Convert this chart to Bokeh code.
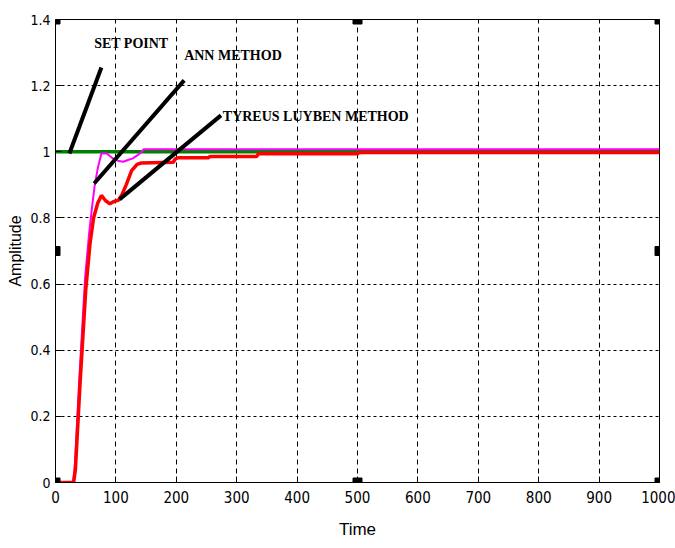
from bokeh.plotting import figure
from bokeh.models import Range1d, FixedTicker
from bokeh.core.properties import value
from bokeh.embed import file_html
from bokeh.resources import INLINE

# ---- data ----
x_ticks = [0, 100, 200, 300, 400, 500, 600, 700, 800, 900, 1000]
y_ticks = [0, 0.2, 0.4, 0.6, 0.8, 1.0, 1.2, 1.4]
y_tick_labels = ["0", "0.2", "0.4", "0.6", "0.8", "1", "1.2", "1.4"]

set_t = [0, 1000]
set_y = [1.0, 1.0]

tl_t = [0, 30, 33, 41, 50, 57, 63, 70, 76, 83, 90, 97, 104, 110, 117, 126, 135, 142,
        195, 198, 203, 253, 256, 333, 336, 500, 503, 1000]
tl_y = [0, 0, 0.04, 0.31, 0.58, 0.72, 0.80, 0.845, 0.868, 0.852, 0.843, 0.85, 0.853,
        0.87, 0.90, 0.943, 0.962, 0.966, 0.968, 0.978, 0.982, 0.982, 0.986, 0.986,
        0.994, 0.994, 0.998, 0.998]

ann_t = [0, 29, 32, 39, 49, 56, 61, 65, 70, 76, 85, 95, 105, 112, 120, 128, 136, 142, 146, 1000]
ann_y = [0, 0, 0.05, 0.30, 0.62, 0.76, 0.84, 0.90, 0.95, 0.995, 0.995, 0.98, 0.972,
         0.97, 0.975, 0.98, 0.99, 0.998, 1.008, 1.008]

note_text = ["SET POINT", "ANN METHOD", "TYREUS LUYBEN METHOD"]
note_x = [64, 213, 277]
note_y = [1.305, 1.268, 1.085]
pointer_x0 = [23, 64, 106]
pointer_y0 = [0.995, 0.904, 0.856]
pointer_x1 = [76, 213, 274]
pointer_y1 = [1.255, 1.216, 1.11]

handle_x = [0, 500, 1000, 0, 1000, 0, 500, 1000]
handle_y = [1.4, 1.4, 1.4, 0.7, 0.7, 0, 0, 0]

# ---- figure ----
p = figure(width=675, height=548, x_range=Range1d(0, 1000), y_range=Range1d(0, 1.4),
           output_backend="svg", toolbar_location=None,
           min_border_left=55, min_border_right=16, min_border_top=19, min_border_bottom=66)
p.background_fill_color = "white"
p.border_fill_color = "white"
p.outline_line_color = "black"
p.outline_line_width = 1

tick_font = "Liberation Sans Narrow, DejaVu Sans Condensed, Liberation Sans"
for ax in (p.xaxis[0], p.yaxis[0]):
    ax.major_tick_in = 6
    ax.major_tick_out = 0
    ax.minor_tick_line_color = None
    ax.axis_line_color = "black"
    ax.major_tick_line_color = "black"
    ax.major_label_text_font = tick_font
    ax.major_label_text_font_size = "15px"
    ax.major_label_text_color = "black"
    ax.axis_label_text_font = "Liberation Sans"
    ax.axis_label_text_font_style = "normal"
    ax.axis_label_text_color = "black"

p.yaxis.major_label_text_font_size = "14px"
p.xaxis.ticker = FixedTicker(ticks=x_ticks)
p.yaxis.ticker = FixedTicker(ticks=y_ticks)
p.yaxis.major_label_overrides = {t: s for t, s in zip(y_ticks, y_tick_labels)}
p.xaxis.major_label_standoff = 8
p.yaxis.major_label_standoff = 5
p.xaxis.axis_label = "Time"
p.yaxis.axis_label = "Amplitude"
p.xaxis.axis_label_text_font_size = "17px"
p.yaxis.axis_label_text_font_size = "16px"
p.xaxis.axis_label_standoff = 14
p.yaxis.axis_label_standoff = 3

p.xgrid.grid_line_color = "black"
p.xgrid.grid_line_dash = "5 4"
p.xgrid.grid_line_width = 1
p.ygrid.grid_line_color = "black"
p.ygrid.grid_line_dash = "3 3"
p.ygrid.grid_line_width = 1

# ---- curves ----
p.line(set_t, set_y, color="#008000", line_width=3.5)
p.line(ann_t, ann_y, color="#ff00ff", line_width=2)
p.line(tl_t, tl_y, color="#ff0000", line_width=3.5)

# ---- annotations ----
p.segment(x0=pointer_x0, y0=pointer_y0, x1=pointer_x1, y1=pointer_y1,
          color="black", line_width=4)
p.text(x=note_x, y=note_y, text=note_text, text_font=value("Liberation Serif"),
       text_font_style="bold", text_font_size="14px", text_color="black",
       text_baseline="bottom", text_align="left")

p.scatter(handle_x, handle_y, marker="square", size=9, color="black")

open("out.html", "w").write(file_html(p, INLINE))
